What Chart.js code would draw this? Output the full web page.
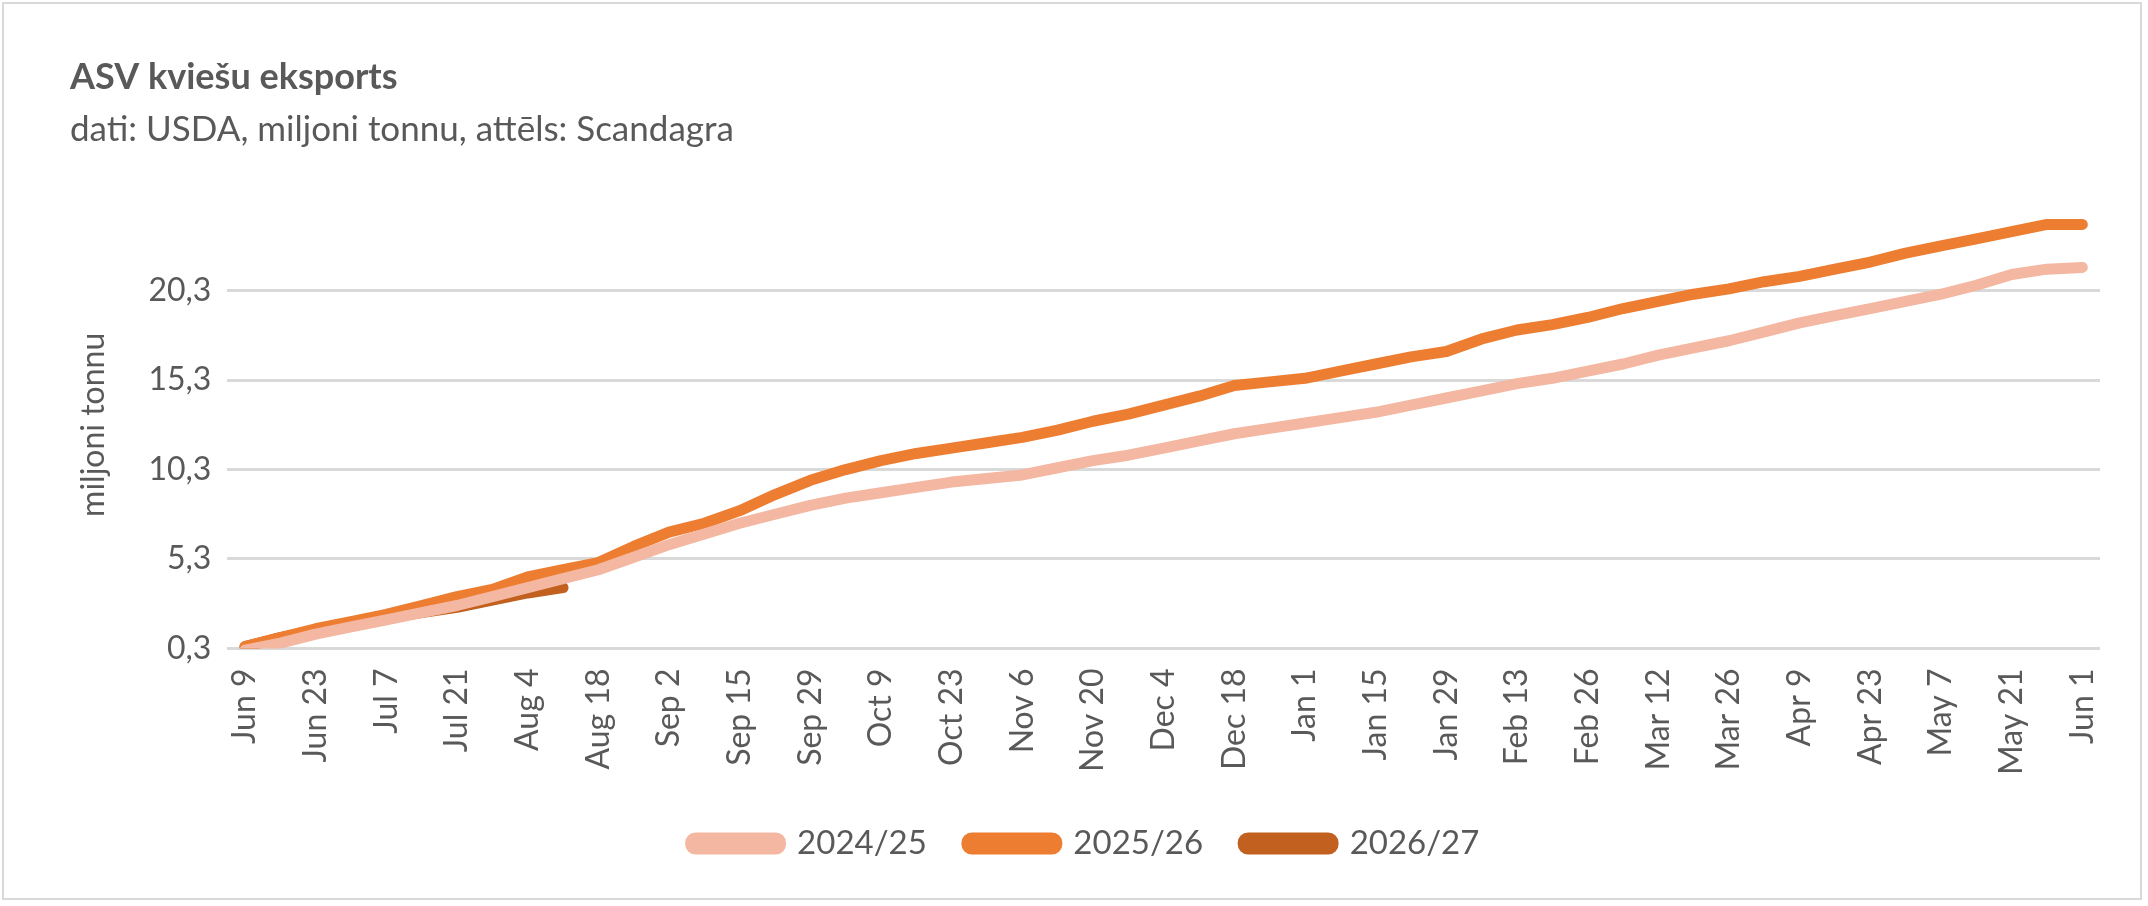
<!DOCTYPE html>
<html>
<head>
<meta charset="utf-8">
<script src="https://cdn.jsdelivr.net/npm/chart.js@4/dist/chart.umd.min.js"></script>
<style>
  html, body { margin: 0; padding: 0; background: #fff; }
  #wrap { position: absolute; left: 2px; top: 2px; width: 2140px; height: 898px; border: 2px solid #d9d9d9; box-sizing: border-box; }
  canvas { display: block; }
</style>
</head>
<body>
<div id="wrap"><canvas id="c"></canvas></div>
<script>
const labels = ['Jun 9','Jun 16','Jun 23','Jun 30','Jul 7','Jul 14','Jul 21','Jul 28','Aug 4','Aug 11',
  'Aug 18','Aug 25','Sep 2','Sep 8','Sep 15','Sep 22','Sep 29','Oct 2','Oct 9','Oct 16',
  'Oct 23','Oct 30','Nov 6','Nov 13','Nov 20','Nov 27','Dec 4','Dec 11','Dec 18','Dec 25',
  'Jan 1','Jan 8','Jan 15','Jan 22','Jan 29','Feb 5','Feb 13','Feb 19','Feb 26','Mar 5',
  'Mar 12','Mar 19','Mar 26','Apr 2','Apr 9','Apr 16','Apr 23','Apr 30','May 7','May 14',
  'May 21','May 28','Jun 1'];

const s2425 = [0.2,0.6,1.1,1.5,1.9,2.3,2.7,3.2,3.7,4.2,
  4.7,5.4,6.1,6.7,7.3,7.8,8.3,8.7,9.0,9.3,
  9.6,9.8,10.0,10.4,10.8,11.1,11.5,11.9,12.3,12.6,
  12.9,13.2,13.5,13.9,14.3,14.7,15.1,15.4,15.8,16.2,
  16.7,17.1,17.5,18.0,18.5,18.9,19.3,19.7,20.1,20.6,
  21.2,21.5,21.6];
const s2526 = [0.4,0.9,1.4,1.8,2.2,2.7,3.2,3.6,4.3,4.7,
  5.1,6.0,6.8,7.3,8.0,8.9,9.7,10.3,10.8,11.2,
  11.5,11.8,12.1,12.5,13.0,13.4,13.9,14.4,15.0,15.2,
  15.4,15.8,16.2,16.6,16.9,17.6,18.1,18.4,18.8,19.3,
  19.7,20.1,20.4,20.8,21.1,21.5,21.9,22.4,22.8,23.2,
  23.6,24.0,24.0];
const s2627 = [0.4,0.9,1.3,1.7,2.0,2.3,2.6,3.0,3.4,3.7];

const yTicks = [0.3, 5.3, 10.3, 15.3, 20.3];
const seriesNames = ['2024/25','2025/26','2026/27'];

const font = "Lato, 'Open Sans', sans-serif";
const grey = '#595959';

new Chart(document.getElementById('c'), {
  type: 'line',
  data: {
    labels: labels,
    datasets: [
      { label: seriesNames[0], data: s2425, borderColor: '#F4B7A1', backgroundColor: '#F4B7A1' },
      { label: seriesNames[1], data: s2526, borderColor: '#ED7D31', backgroundColor: '#ED7D31' },
      { label: seriesNames[2], data: s2627, borderColor: '#C2601F', backgroundColor: '#C2601F' }
    ].map(d => Object.assign(d, { borderWidth: 11, pointRadius: 0, tension: 0, borderCapStyle: 'round', borderJoinStyle: 'round', fill: false }))
  },
  options: {
    responsive: true,
    maintainAspectRatio: false,
    animation: false,
    layout: { padding: { left: 66, right: 40, top: 10, bottom: 28 } },
    plugins: {
      title: { display: true, text: 'ASV kviešu eksports', align: 'start', color: grey,
        font: { family: font, size: 36, weight: 'bold' }, padding: { top: 42, bottom: 10 } },
      subtitle: { display: true, text: 'dati: USDA, miljoni tonnu, attēls: Scandagra', align: 'start', color: grey,
        font: { family: font, size: 35 }, padding: { bottom: 50 } },
      legend: { position: 'bottom',
        labels: { color: grey, font: { family: font, size: 33 }, boxWidth: 90, boxHeight: 11, padding: 40, useBorderRadius: true, borderRadius: 5 } },
      tooltip: { enabled: false }
    },
    scales: {
      x: {
        offset: true,
        grid: { display: false },
        border: { display: false },
        ticks: { color: grey, font: { family: font, size: 32 }, maxRotation: 90, minRotation: 90, autoSkip: false, padding: 12,
          callback: (v, i) => i % 2 === 0 ? labels[i] : '' }
      },
      y: {
        min: 0.3, max: 25.3,
        afterBuildTicks: ax => { ax.ticks = yTicks.concat([25.3]).map(v => ({ value: v })); },
        grid: { color: ctx => ctx.tick && ctx.tick.value > 21 ? 'rgba(0,0,0,0)' : '#d9d9d9', lineWidth: 3, drawTicks: false },
        border: { display: false },
        title: { display: true, text: 'miljoni tonnu', color: grey, font: { family: font, size: 32 }, padding: { bottom: 20 } },
        ticks: { color: grey, font: { family: font, size: 32 }, padding: 16,
          callback: v => v > 21 ? '' : v.toFixed(1).replace('.', ',') }
      }
    }
  }
});
</script>
</body>
</html>
